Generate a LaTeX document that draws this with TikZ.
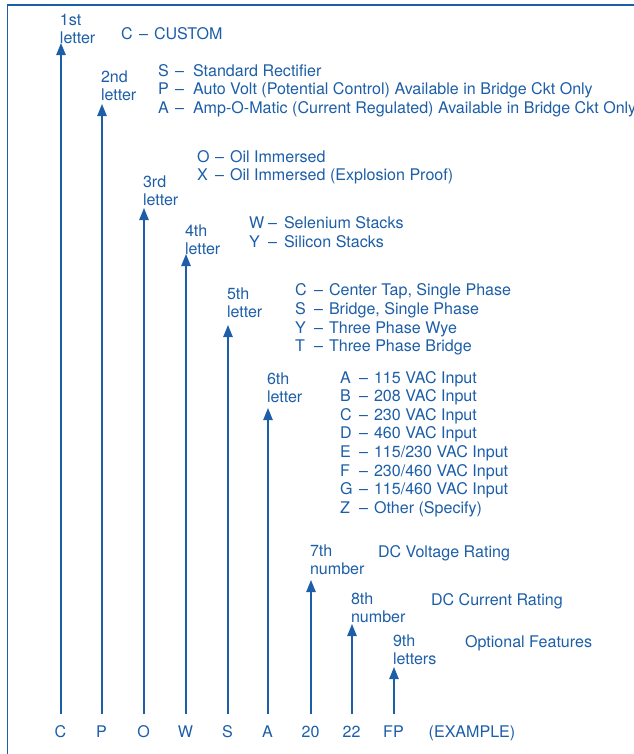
\documentclass[tikz,border=0pt]{standalone}
\usepackage{fontspec}
\setmainfont{TeX Gyre Heros}
\usetikzlibrary{arrows.meta}
\definecolor{blu}{RGB}{28,94,168}
\begin{document}
\begin{tikzpicture}[x=0.75pt,y=-0.75pt,
  txt/.style={inner sep=0pt, outer sep=0pt, text=blu, font=\fontsize{12.05}{14}\selectfont},
  arr/.style={draw=blu, line width=1.1pt, -{Triangle[length=9pt,width=7pt]}},
  frame/.style={draw=blu, line width=1.1pt}]
\useasboundingbox (0,0) rectangle (634,754);
\coordinate (f1) at (7.5,760);
\coordinate (f2) at (7.5,5);
\coordinate (f3) at (640,5);
\draw[frame] (f1) -- (f2) -- (f3);
% code letters, arrows and ordinal labels
\foreach \x/\ty/\oa/\ob/\oy/\bt [count=\i] in {
  61/43/1st/letter/25/C,
  102/104/2nd/letter/82/P,
  144/208/3rd/letter/187/O,
  186/254/4th/letter/236/W,
  228/325/5th/letter/299/S,
  268/408/6th/letter/384/A,
  311/580/7th/number/556/20,
  352/624/8th/number/604/22,
  394/667/9th/letters/646/FP}{
  \node[txt, anchor=base] (bot\i) at (\x-0.5,737) {\bt};
  \coordinate (lb\i) at (\x,714);
  \coordinate (lt\i) at (\x,\ty);
  \draw[arr] (lb\i) -- (lt\i);
  \node[txt, anchor=base west] (ord\i) at (\x-1,\oy) {\oa};
  \node[txt, anchor=base west] (word\i) at (\x-1,\oy+18.5) {\ob};
}
\node[txt, anchor=base] (ex) at (472,737) {(EXAMPLE)};
% description rows
\foreach \lx/\dx/\tx/\by/\l/\t [count=\i] in {
  121/139/154/39/C/CUSTOM,
  158/175/193/76/S/Standard Rectifier,
  158/175/193/94.5/P/Auto Volt (Potential Control) Available in Bridge Ckt Only,
  158/175/193/113/A/Amp-O-Matic (Current Regulated) Available in Bridge Ckt Only,
  197/215/230/162/O/Oil Immersed,
  197/215/230/180/X/Oil Immersed (Explosion Proof),
  249/268/284/228/W/Selenium Stacks,
  249/268/284/247/Y/Silicon Stacks,
  295/314/329/295/C/{Center Tap, Single Phase},
  295/314/329/314/S/{Bridge, Single Phase},
  295/314/329/333/Y/Three Phase Wye,
  295/314/329/351/T/Three Phase Bridge,
  340/359/374/383/A/115 VAC Input,
  340/359/374/401.6/B/208 VAC Input,
  340/359/374/420.2/C/230 VAC Input,
  340/359/374/438.8/D/460 VAC Input,
  340/359/374/457.4/E/{115/230 VAC Input},
  340/359/374/476/F/{230/460 VAC Input},
  340/359/374/494.6/G/{115/460 VAC Input},
  340/359/374/513/Z/Other (Specify)}{
  \node[txt, anchor=base west] (dl\i) at (\lx,\by) {\l};
  \node[txt, anchor=base west] (dd\i) at (\dx,\by) {--};
  \node[txt, anchor=base west] (dt\i) at (\tx,\by) {\t};
}
\node[txt, anchor=base west] (v7) at (378,557) {DC Voltage Rating};
\node[txt, anchor=base west] (v8) at (431,605) {DC Current Rating};
\node[txt, anchor=base west] (v9) at (465,647) {Optional Features};
\end{tikzpicture}
\end{document}
